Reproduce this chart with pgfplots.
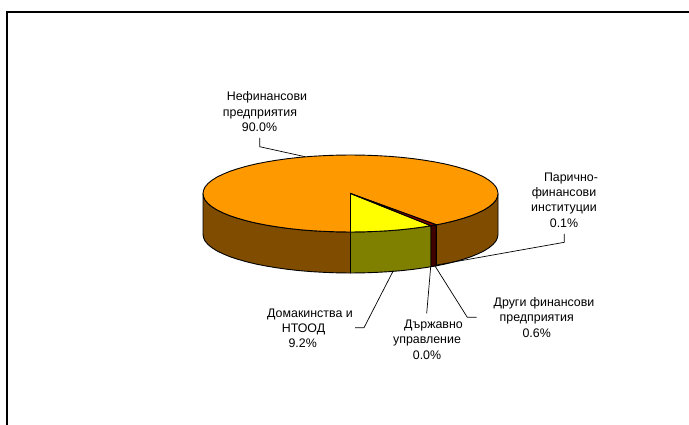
\documentclass[border=0pt]{standalone}
\usepackage{fontspec}
\setmainfont{Liberation Sans}
\usepackage{pgfplots}
\pgfplotsset{compat=1.18}
\definecolor{slOrange}{HTML}{FF9900}
\definecolor{slOrangeD}{HTML}{804D00}
\definecolor{slYellow}{HTML}{FFFF00}
\definecolor{slYellowD}{HTML}{808000}
\definecolor{slRed}{HTML}{800000}
\definecolor{slRedD}{HTML}{400000}
\newcommand{\lab}[3]{\node[anchor=base,inner sep=0pt,font=\fontsize{12.4}{15}\selectfont,text=black] at (axis cs:#1,#2) {#3};}
\begin{document}
\begin{tikzpicture}[x=1pt,y=1pt]
\begin{axis}[
  hide axis,
  scale only axis,
  width=689pt, height=425pt,
  xmin=0, xmax=689,
  ymin=0, ymax=425,
  y dir=reverse,
  clip=true,
]
% page corners keep the picture full size
\addplot[draw=none,forget plot] coordinates {(0,0) (689,425)};
% frame: top and left only
\addplot[black,line width=2pt] coordinates {(689,12) (7,12) (7,425)};

% walls
\addplot[fill=slOrangeD,draw=black,line width=0.9pt] coordinates {
(203,193.5) (203.6,196.9) (205.2,200.2) (208,203.5) (211.9,206.7) (216.8,209.8) (222.8,212.75) (229.7,215.6) (237.5,218.2) (246.2,220.7) (255.7,223) (265.9,225) (276.75,226.8) (288.2,228.4) (300.1,229.7) (312.3,230.7) (324.9,231.4) (337.6,231.85) (350.5,232)
(350.5,273) (337.6,272.85) (324.9,272.4) (312.3,271.7) (300.1,270.7) (288.2,269.4) (276.75,267.8) (265.9,266) (255.7,264) (246.2,261.7) (237.5,259.2) (229.7,256.6) (222.8,253.75) (216.8,250.8) (211.9,247.7) (208,244.5) (205.2,241.2) (203.6,237.9) (203,234.5)
} -- cycle;
\addplot[fill=slYellowD,draw=black,line width=0.9pt] coordinates {
(350.5,232) (363.4,231.85) (376.1,231.4) (388.7,230.7) (400.9,229.7) (412.8,228.4) (424.25,226.8) (431,225.75)
(431,266.75) (424.25,267.8) (412.8,269.4) (400.9,270.7) (388.7,271.7) (376.1,272.4) (363.4,272.85) (350.5,273)
} -- cycle;
\addplot[fill=slRedD,draw=black,line width=0.9pt] coordinates {
(431,225.75) (436.4,224.8) (436.4,265.8) (431,266.75)
} -- cycle;
\addplot[fill=slOrangeD,draw=black,line width=0.9pt] coordinates {
(436.4,224.8) (445.3,223) (454.8,220.7) (463.5,218.2) (471.3,215.6) (478.2,212.75) (484.2,209.8) (489.1,206.7) (493,203.5) (495.8,200.2) (497.4,196.9) (498,193.5)
(498,234.5) (497.4,237.9) (495.8,241.2) (493,244.5) (489.1,247.7) (484.2,250.8) (478.2,253.75) (471.3,256.6) (463.5,259.2) (454.8,261.7) (445.3,264) (436.4,265.8)
} -- cycle;

% top of the pie
\addplot[fill=slOrange,draw=black,line width=0.9pt] coordinates {
(350.5,193.5) (436.4,224.8) (445.3,223) (454.8,220.7) (463.5,218.2) (471.3,215.6) (478.2,212.75) (484.2,209.8) (489.1,206.7) (493,203.5) (495.8,200.2) (497.4,196.9) (498,193.5)
(497.4,190.1) (495.8,186.8) (493,183.5) (489.1,180.3) (484.2,177.2) (478.2,174.25) (471.3,171.4) (463.5,168.8) (454.8,166.3) (445.3,164) (435.1,162) (424.25,160.2) (412.8,158.6) (400.9,157.3) (388.7,156.3) (376.1,155.6) (363.4,155.15) (350.5,155)
(337.6,155.15) (324.9,155.6) (312.3,156.3) (300.1,157.3) (288.2,158.6) (276.75,160.2) (265.9,162) (255.7,164) (246.2,166.3) (237.5,168.8) (229.7,171.4) (222.8,174.25) (216.8,177.2) (211.9,180.3) (208,183.5) (205.2,186.8) (203.6,190.1) (203,193.5)
(203.6,196.9) (205.2,200.2) (208,203.5) (211.9,206.7) (216.8,209.8) (222.8,212.75) (229.7,215.6) (237.5,218.2) (246.2,220.7) (255.7,223) (265.9,225) (276.75,226.8) (288.2,228.4) (300.1,229.7) (312.3,230.7) (324.9,231.4) (337.6,231.85) (350.5,232)
} -- cycle;
\addplot[fill=slYellow,draw=black,line width=0.9pt] coordinates {
(350.5,193.5) (350.5,232) (363.4,231.85) (376.1,231.4) (388.7,230.7) (400.9,229.7) (412.8,228.4) (424.25,226.8) (431,225.75)
} -- cycle;
\addplot[fill=slRed,draw=black,line width=0.9pt] coordinates {
(350.5,193.5) (431,225.75) (436.4,224.8)
} -- cycle;

% leader lines
\addplot[black,line width=0.7pt] coordinates {(259.7,138) (259.7,146.7) (305,156.7)};
\addplot[black,line width=0.7pt] coordinates {(355,327.7) (364,327.7) (393.3,270.7)};
\addplot[black,line width=0.7pt] coordinates {(426.7,313.3) (430.7,266.7)};
\addplot[black,line width=0.7pt] coordinates {(476.7,317.3) (467.3,317.3) (435,266)};
\addplot[black,line width=0.7pt] coordinates {(564.3,234) (564.3,242.3) (436.7,265)};

% labels
\lab{267}{101}{Нефинансови}
\lab{260}{116.5}{предприятия}
\lab{259.5}{131.5}{90.0\%}
\lab{310}{317}{Домакинства и}
\lab{303.5}{332.5}{НТООД}
\lab{302.7}{347.5}{9.2\%}
\lab{433.5}{328}{Държавно}
\lab{427}{343.5}{управление}
\lab{427}{359}{0.0\%}
\lab{544}{306}{Други финансови}
\lab{536.7}{321.5}{предприятия}
\lab{536.7}{337}{0.6\%}
\lab{571}{181.5}{Парично-}
\lab{564}{197}{финансови}
\lab{564}{212}{институции}
\lab{564}{227.5}{0.1\%}
\end{axis}
\end{tikzpicture}
\end{document}
